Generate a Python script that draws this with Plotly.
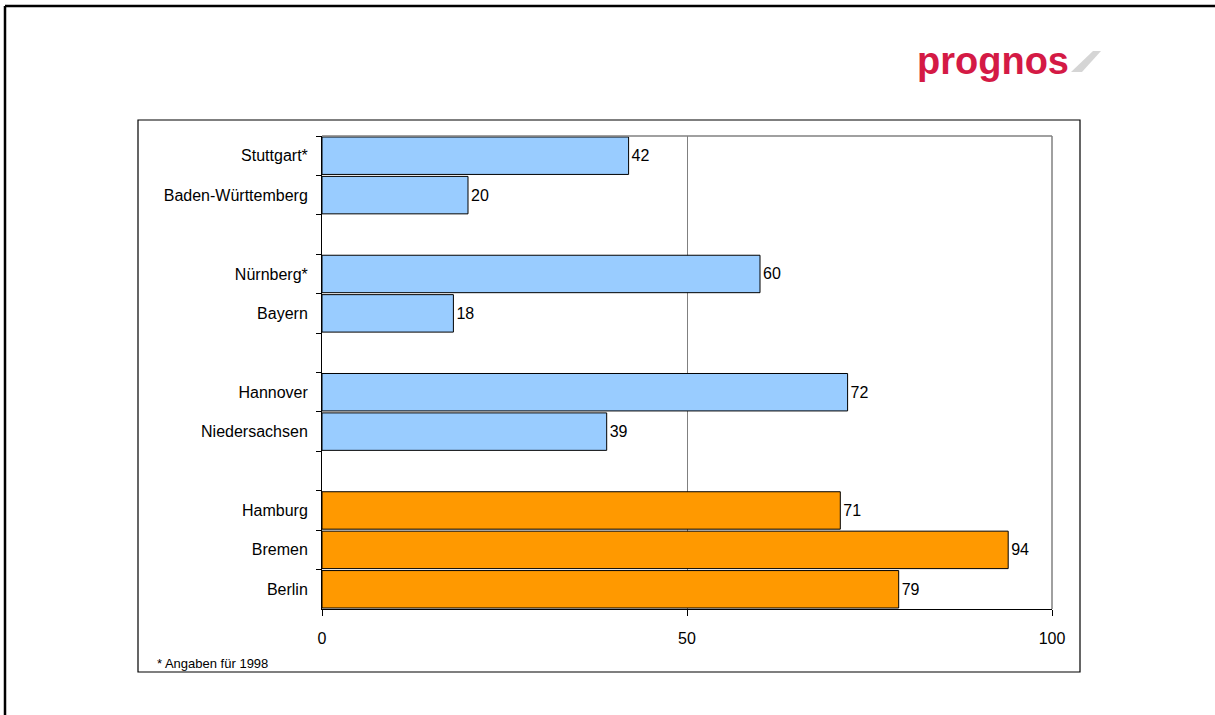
import plotly.graph_objects as go

# ---- data ----
categories = ["Stuttgart*", "Baden-Württemberg", " ", "Nürnberg*", "Bayern", "  ",
              "Hannover", "Niedersachsen", "   ", "Hamburg", "Bremen", "Berlin"]
values = [42, 20, None, 60, 18, None, 72, 39, None, 71, 94, 79]
groups = ["land", "land", None, "land", "land", None, "land", "land", None,
          "stadtstaat", "stadtstaat", "stadtstaat"]
x_ticks = [0, 50, 100]
footnote = "* Angaben für 1998"
logo_text = "prognos"

colors = {"land": "#99CCFF", "stadtstaat": "#FF9900"}
FONT = "Arial, Liberation Sans, sans-serif"

W, H = 1215, 715
L, R, T, B = 322, 1052, 136, 609  # plot area in pixels


def px(x):
    return (x - L) / (R - L)


def py(y):
    return (B - y) / (B - T)


fig = go.Figure()
for g in ["land", "stadtstaat"]:
    xs = [v if gr == g else None for v, gr in zip(values, groups)]
    txt = [str(v) if gr == g else "" for v, gr in zip(values, groups)]
    fig.add_trace(go.Bar(
        y=categories, x=xs, orientation="h",
        marker=dict(color=colors[g], line=dict(color="#000000", width=1)),
        text=txt, textposition="outside", cliponaxis=False,
        textfont=dict(family=FONT, size=16, color="#000000"),
        showlegend=False, hoverinfo="skip",
    ))

fig.update_layout(
    width=W, height=H,
    margin=dict(l=L, r=W - R, t=T, b=H - B),
    paper_bgcolor="white", plot_bgcolor="white",
    barmode="overlay", bargap=0.05,
    font=dict(family=FONT, size=16, color="#000000"),
    xaxis=dict(range=[0, 100], tickvals=x_ticks, showgrid=True, gridcolor="#808080",
               gridwidth=1, zeroline=False, showline=True, linecolor="#000000",
               linewidth=1, ticks="outside", ticklen=6, tickcolor="#000000",
               ticklabelstandoff=9, tickfont=dict(size=16, family=FONT)),
    yaxis=dict(type="category", categoryorder="array", categoryarray=categories,
               range=[len(categories) - 0.5, -0.5], tickson="boundaries",
               ticks="outside", ticklen=5, tickcolor="#000000", showgrid=False,
               zeroline=False, showline=True, linecolor="#000000", linewidth=1,
               ticklabelstandoff=10, tickfont=dict(size=16, family=FONT)),
)

shapes = [
    # gray top and right border of plot area
    dict(type="line", xref="paper", yref="paper", x0=0, x1=1, y0=1, y1=1,
         line=dict(color="#808080", width=1.5)),
    dict(type="line", xref="paper", yref="paper", x0=1, x1=1, y0=0, y1=1,
         line=dict(color="#808080", width=1.5)),
    # inner chart frame
    dict(type="rect", xref="paper", yref="paper", x0=px(138), x1=px(1080),
         y0=py(672), y1=py(120), line=dict(color="#000000", width=1.2)),
    # outer page frame (top and left)
    dict(type="line", xref="paper", yref="paper", x0=px(5), x1=px(1215),
         y0=py(6), y1=py(6), line=dict(color="#000000", width=2.5)),
    dict(type="line", xref="paper", yref="paper", x0=px(5), x1=px(5),
         y0=py(6), y1=py(715), line=dict(color="#000000", width=2.5)),
    # logo slash
    dict(type="path", xref="paper", yref="paper",
         path=f"M {px(1071)} {py(72)} L {px(1082)} {py(72)} L {px(1101)} {py(51)} L {px(1093)} {py(51)} Z",
         fillcolor="#D5D5D5", line=dict(width=0)),
]
fig.update_layout(shapes=shapes)

fig.add_annotation(xref="paper", yref="paper", x=px(155), y=py(663),
                   xanchor="left", yanchor="middle", text=footnote, showarrow=False,
                   font=dict(family=FONT, size=13, color="#000000"))
fig.add_annotation(xref="paper", yref="paper", x=px(915), y=py(61),
                   xanchor="left", yanchor="middle", text=f"<b>{logo_text}</b>",
                   showarrow=False,
                   font=dict(family=FONT, size=38, color="#D41A45"))

fig.write_html("out.html", config={"displayModeBar": False},
               post_script="document.body.style.margin='0';")
